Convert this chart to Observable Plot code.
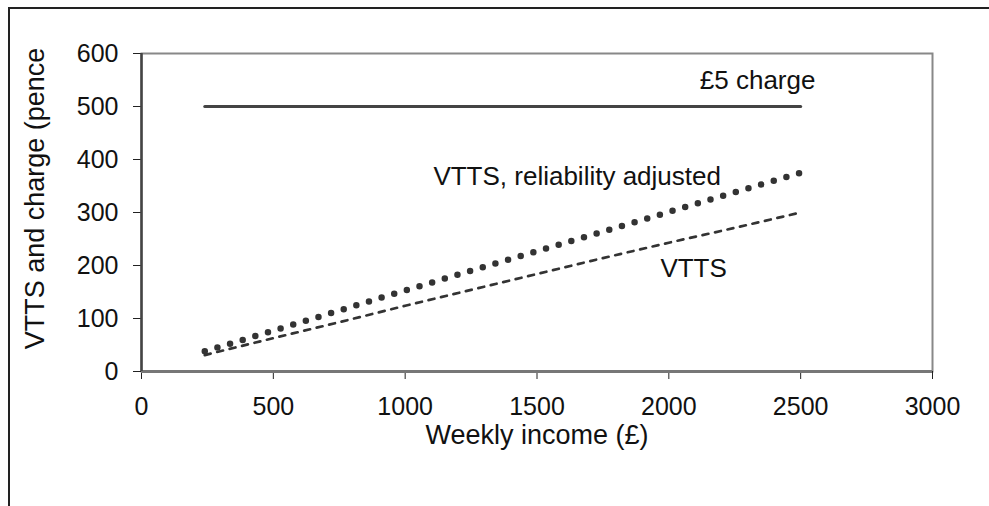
<!DOCTYPE html>
<html><head><meta charset="utf-8">
<script src="https://cdn.jsdelivr.net/npm/d3@7"></script>
<script src="https://cdn.jsdelivr.net/npm/@observablehq/plot@0.6"></script>
<style>
body{margin:0;background:#fff;overflow:hidden}
#wrap{position:relative;width:989px;height:506px;overflow:hidden;background:#fff}
#border{position:absolute;left:8px;top:7px;width:1100px;height:600px;border:2px solid #222;}
#chart{position:absolute;left:0;top:0}
svg{font-family:"Liberation Sans",Arial,sans-serif;background:transparent !important}
</style></head><body>
<div id="wrap"><div id="border"></div><div id="chart"></div></div>
<script>
const income = [240, 500, 750, 1000, 1250, 1500, 1750, 2000, 2250, 2500];
const vtts = [31, 63, 93, 124, 154, 184, 214, 243, 271, 300];
const vttsRel = [38, 77, 115, 153, 190, 227, 264, 301, 338, 375];
const chargeIncome = [240, 2500];
const charge = [500, 500];
const xTicks = [0, 500, 1000, 1500, 2000, 2500, 3000];
const yTicks = [0, 100, 200, 300, 400, 500, 600];
const xTitle = "Weekly income (£)";
const yTitle = "VTTS and charge (pence";
const labels = ["£5 charge", "VTTS, reliability adjusted", "VTTS"];

const toRows = (xs, ys) => xs.map((x, i) => ({x, y: ys[i]}));
const ink = "#333";

const chart = Plot.plot({
  width: 989,
  height: 506,
  marginLeft: 141,
  marginRight: 57,
  marginTop: 53,
  marginBottom: 135,
  style: {fontFamily: "Liberation Sans, Arial, sans-serif", background: "transparent", color: "#111"},
  x: {domain: [0, 3000]},
  y: {domain: [0, 600]},
  marks: [
    Plot.frame({stroke: "#888", strokeWidth: 2}),
    Plot.axisX(xTicks, {tickSize: 8, tickPadding: 18, fontSize: 25, label: null, stroke: "#222", tickFormat: d => String(d)}),
    Plot.axisY(yTicks, {tickSize: 8, tickPadding: 15, fontSize: 25, label: null, stroke: "#222", tickFormat: d => String(d)}),
    Plot.ruleY([0], {stroke: "#777", strokeWidth: 3}),
    Plot.ruleX([0], {stroke: "#444", strokeWidth: 2.5}),
    Plot.line(toRows(chargeIncome, charge), {x: "x", y: "y", stroke: "#444", strokeWidth: 3}),
    Plot.line(toRows(income, vtts), {x: "x", y: "y", stroke: ink, strokeWidth: 2.7, strokeDasharray: "6,6.8"}),
    Plot.line(toRows(income, vttsRel), {x: "x", y: "y", stroke: ink, strokeWidth: 6.5, strokeDasharray: "0,13.2", strokeLinecap: "round"}),
    Plot.text([labels[0]], {x: 2556, y: 548, textAnchor: "end", fontSize: 26, fill: "#111"}),
    Plot.text([labels[1]], {x: 1107, y: 367, textAnchor: "start", fontSize: 26, fill: "#111"}),
    Plot.text([labels[2]], {x: 1968, y: 194, textAnchor: "start", fontSize: 26, fill: "#111"}),
    Plot.text([xTitle], {frameAnchor: "bottom", dy: 72, fontSize: 27, fill: "#111"}),
    Plot.text([yTitle], {frameAnchor: "left", textAnchor: "middle", dx: -106, dy: -14, rotate: -90, fontSize: 27, fill: "#111"})
  ]
});
document.getElementById("chart").appendChild(chart);
</script>
</body></html>
